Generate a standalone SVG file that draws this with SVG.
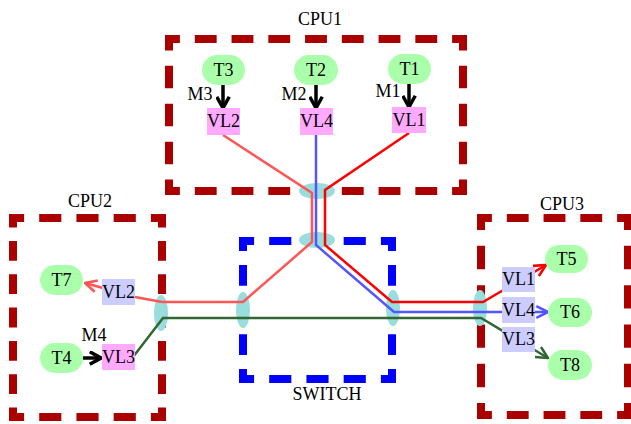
<svg xmlns="http://www.w3.org/2000/svg" width="631" height="424" viewBox="0 0 631 424">
<defs>
<style>
.cpu{fill:none;stroke:#aa0000;stroke-width:8;stroke-dasharray:22 15;stroke-dashoffset:7}
.sw{fill:none;stroke:#0000ff;stroke-width:8;stroke-dasharray:22 15;stroke-dashoffset:7}
.port{fill:#99dddd}
.t{fill:#aaffaa}
.vlp{fill:#ffaaff}
.vlb{fill:#ccccff}
text{font-family:"Liberation Serif","Times New Roman",serif;font-size:18px;fill:#000;text-anchor:middle}
.ln{fill:none;stroke-width:2.5;stroke-linejoin:miter}
.blk{fill:none;stroke:#000;stroke-width:3.5}
</style>
<marker id="ab" viewBox="0 0 12 12" refX="10.5" refY="6" markerWidth="15" markerHeight="15" markerUnits="userSpaceOnUse" orient="auto"><path d="M1.5,1 L10.5,6 L1.5,11" fill="none" stroke="#000" stroke-width="2.8"/></marker>
<marker id="ar" viewBox="0 0 12 12" refX="11" refY="6" markerWidth="14" markerHeight="14" markerUnits="userSpaceOnUse" orient="auto"><path d="M1,1 L11,6 L1,11" fill="none" stroke="#ff0000" stroke-width="2.2"/></marker>
<marker id="as" viewBox="0 0 12 12" refX="11" refY="6" markerWidth="14" markerHeight="14" markerUnits="userSpaceOnUse" orient="auto"><path d="M1,1 L11,6 L1,11" fill="none" stroke="#ff5555" stroke-width="2.2"/></marker>
<marker id="au" viewBox="0 0 12 12" refX="11" refY="6" markerWidth="14" markerHeight="14" markerUnits="userSpaceOnUse" orient="auto"><path d="M1,1 L11,6 L1,11" fill="none" stroke="#5555ff" stroke-width="2.2"/></marker>
<marker id="ag" viewBox="0 0 12 12" refX="11" refY="6" markerWidth="14" markerHeight="14" markerUnits="userSpaceOnUse" orient="auto"><path d="M1,1 L11,6 L1,11" fill="none" stroke="#336633" stroke-width="2.2"/></marker>
</defs>
<rect width="631" height="424" fill="#fff"/>
<g id="cpu1">
<path class="cpu" d="M165,39 H467" pathLength="304"/>
<path class="cpu" d="M165,191 H467" pathLength="304"/>
<path class="cpu" d="M169,35 V195" pathLength="156"/>
<path class="cpu" d="M463,35 V195" pathLength="156"/>
<text x="320" y="25">CPU1</text></g>
<g id="cpu2">
<path class="cpu" d="M9,218 H166" pathLength="156"/>
<path class="cpu" d="M9,417 H166" pathLength="156"/>
<path class="cpu" d="M13,214 V421" pathLength="230"/>
<path class="cpu" d="M162,214 V421" pathLength="230"/>
<text x="90" y="207">CPU2</text></g>
<g id="cpu3">
<path class="cpu" d="M477,218 H632" pathLength="156"/>
<path class="cpu" d="M477,415 H632" pathLength="156"/>
<path class="cpu" d="M481,214 V419" pathLength="193"/>
<path class="cpu" d="M628,214 V419" pathLength="193"/>
<text x="562" y="210">CPU3</text></g>
<g id="switch">
<path class="sw" d="M239,241 H396" pathLength="156"/>
<path class="sw" d="M239,379 H396" pathLength="156"/>
<path class="sw" d="M243,237 V383" pathLength="156"/>
<path class="sw" d="M392,237 V383" pathLength="156"/>
<text x="327" y="400">SWITCH</text></g>
<g id="ports">
<ellipse class="port" cx="317" cy="191" rx="18" ry="8"/>
<ellipse class="port" cx="317" cy="240" rx="18" ry="8"/>
<ellipse class="port" cx="243" cy="310" rx="7" ry="18"/>
<ellipse class="port" cx="393" cy="308" rx="7" ry="18"/>
<ellipse class="port" cx="480" cy="308" rx="7" ry="18"/>
<ellipse class="port" cx="161" cy="313" rx="7" ry="18"/>
</g>
<g id="connectors">
<path class="ln" stroke="#ff5555" d="M223,135 L312,193 L312,242 L243,302 L162,302 L135,297 L85,283" marker-end="url(#as)"/>
<path class="ln" stroke="#5555ff" d="M316,135 L316,245 L394,312 L548,312" marker-end="url(#au)"/>
<path class="ln" stroke="#ff0000" d="M409,133 L325,190 L325,245 L392,302 L483,302 L546,265" marker-end="url(#ar)"/>
<path class="ln" stroke="#336633" d="M133,357 L163,318 L481,318 L548,358" marker-end="url(#ag)"/>
<path class="blk" d="M223,84 L223,108" marker-end="url(#ab)"/>
<path class="blk" d="M316,84 L316,108" marker-end="url(#ab)"/>
<path class="blk" d="M409,83 L409,107" marker-end="url(#ab)"/>
<path class="blk" d="M83,358 L101,358" marker-end="url(#ab)"/>
<text x="200" y="100">M3</text>
<text x="294" y="100">M2</text>
<text x="388" y="97">M1</text>
<text x="94" y="341">M4</text>
</g>
<g id="T3"><rect class="t" x="202" y="55" width="43" height="30" rx="15"/><text x="223.5" y="76">T3</text></g>
<g id="T2"><rect class="t" x="294" y="55" width="44" height="30" rx="15"/><text x="316" y="76">T2</text></g>
<g id="T1"><rect class="t" x="388" y="54" width="43" height="30" rx="15"/><text x="409.5" y="75">T1</text></g>
<g id="VL2a"><rect class="vlp" x="207" y="108" width="33" height="27"/><text x="223.5" y="127">VL2</text></g>
<g id="VL4a"><rect class="vlp" x="300" y="108" width="33" height="27"/><text x="316.5" y="127">VL4</text></g>
<g id="VL1a"><rect class="vlp" x="392" y="107" width="34" height="26"/><text x="409" y="126">VL1</text></g>
<g id="T7"><rect class="t" x="40" y="265" width="43" height="30" rx="15"/><text x="61.5" y="286">T7</text></g>
<g id="T4"><rect class="t" x="40" y="343" width="43" height="30" rx="15"/><text x="61.5" y="364">T4</text></g>
<g id="VL2b"><rect class="vlb" x="102" y="279" width="33" height="26"/><text x="118.5" y="298">VL2</text></g>
<g id="VL3b"><rect class="vlp" x="102" y="344" width="33" height="26"/><text x="118.5" y="363">VL3</text></g>
<g id="VL1c"><rect class="vlb" x="502" y="267" width="33" height="25"/><text x="518.5" y="285">VL1</text></g>
<g id="VL4c"><rect class="vlb" x="502" y="297" width="33" height="26"/><text x="518.5" y="316">VL4</text></g>
<g id="VL3c"><rect class="vlb" x="502" y="327" width="33" height="25"/><text x="518.5" y="345">VL3</text></g>
<g id="T5"><rect class="t" x="545" y="245" width="43" height="28" rx="14"/><text x="566.5" y="265">T5</text></g>
<g id="T6"><rect class="t" x="548" y="298" width="44" height="29" rx="14.5"/><text x="570" y="318">T6</text></g>
<g id="T8"><rect class="t" x="548" y="350" width="44" height="30" rx="15"/><text x="570" y="371">T8</text></g>
</svg>
